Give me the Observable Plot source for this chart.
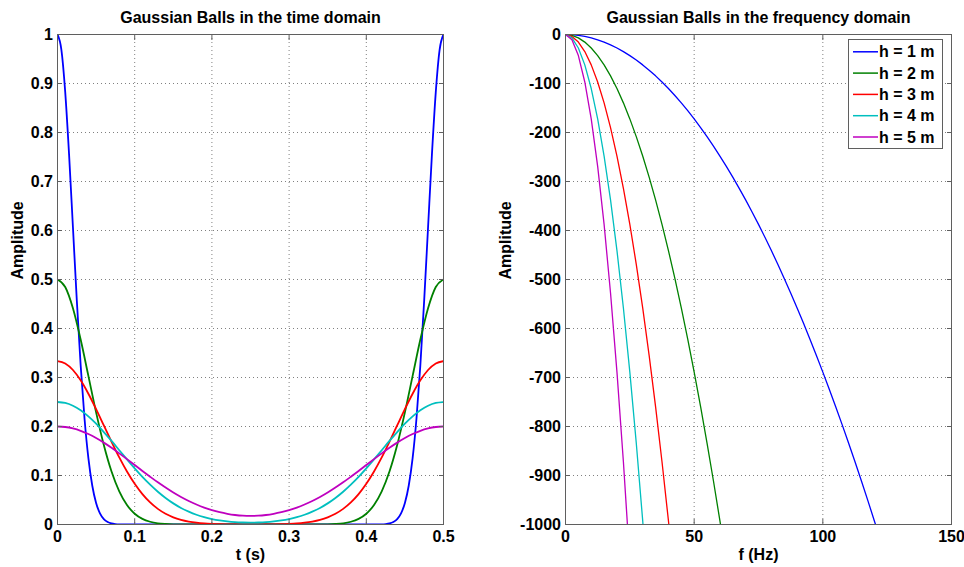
<!DOCTYPE html>
<html><head><meta charset="utf-8">
<script src="https://cdn.jsdelivr.net/npm/d3@7"></script>
<script src="https://cdn.jsdelivr.net/npm/@observablehq/plot@0.6"></script>
<style>
html,body{margin:0;padding:0;background:#fff;}
#wrap{position:relative;width:964px;height:567px;overflow:hidden;background:#fff;}
#wrap svg{position:absolute;top:0;}
</style></head><body><div id="wrap"></div>
<script>
// ---------- series ----------
const seriesNames = ["h = 1 m", "h = 2 m", "h = 3 m", "h = 4 m", "h = 5 m"];
const seriesColors = ["#0000ff", "#008000", "#ff0000", "#00bfbf", "#bf00bf"];

// ---------- time domain ----------
const tBall1 = [0,0.005,0.01,0.015,0.02,0.025,0.03,0.035,0.04,0.045,0.05,0.055,0.06,0.065,0.07,0.075,0.08,0.085,0.09,
  0.41,0.415,0.42,0.425,0.43,0.435,0.44,0.445,0.45,0.455,0.46,0.465,0.47,0.475,0.48,0.485,0.49,0.495,0.5];
const timeH1 = [1,0.9692,0.8825,0.7548,0.6065,0.4578,0.3247,0.2163,0.1353,0.0796,0.0439,0.0228,0.0111,0.0051,0.0022,0.0009,0.0003,0.0001,0,
  0,0.0001,0.0003,0.0009,0.0022,0.0051,0.0111,0.0228,0.0439,0.0796,0.1353,0.2163,0.3247,0.4578,0.6065,0.7548,0.8825,0.9692,1];
const tGrid = [0,0.01,0.02,0.03,0.04,0.05,0.06,0.07,0.08,0.09,0.1,0.11,0.12,0.13,0.14,0.15,0.16,0.17,0.18,0.19,0.2,
  0.21,0.22,0.23,0.24,0.25,0.26,0.27,0.28,0.29,0.3,0.31,0.32,0.33,0.34,0.35,0.36,0.37,0.38,0.39,0.4,
  0.41,0.42,0.43,0.44,0.45,0.46,0.47,0.48,0.49,0.5];
const timeH2 = [0.5,0.4846,0.4412,0.3774,0.3033,0.2289,0.1623,0.1081,0.0677,0.0398,0.022,0.0114,0.0056,0.0025,0.0011,0.0004,0.0002,0.0001,
  0,0,0,0,0,0,0,0,0,0,0,0,0,0,0,
  0.0001,0.0002,0.0004,0.0011,0.0025,0.0056,0.0114,0.022,0.0398,0.0677,0.1081,0.1623,0.2289,0.3033,0.3774,0.4412,0.4846,0.5];
const timeH3 = [0.3333,0.3287,0.3153,0.2942,0.2669,0.2355,0.2022,0.1688,0.137,0.1082,0.0831,0.0621,0.0451,0.0319,0.0219,0.0146,0.0095,0.006,0.0037,0.0022,0.0013,0.0007,0.0004,0.0002,0.0001,0.0001,
  0.0001,0.0002,0.0004,0.0007,0.0013,0.0022,0.0037,0.006,0.0095,0.0146,0.0219,0.0319,0.0451,0.0621,0.0831,0.1082,0.137,0.1688,0.2022,0.2355,0.2669,0.2942,0.3153,0.3287,0.3333];
const timeH4 = [0.25,0.2481,0.2423,0.233,0.2206,0.2057,0.1887,0.1705,0.1516,0.1328,0.1145,0.0971,0.0812,0.0668,0.0541,0.0431,0.0338,0.0262,0.0199,0.015,0.0112,0.0083,0.0062,0.0048,0.0041,0.0038,
  0.0041,0.0048,0.0062,0.0083,0.0112,0.015,0.0199,0.0262,0.0338,0.0431,0.0541,0.0668,0.0812,0.0971,0.1145,0.1328,0.1516,0.1705,0.1887,0.2057,0.2206,0.233,0.2423,0.2481,0.25];
const timeH5 = [0.2,0.199,0.196,0.1912,0.1846,0.1765,0.1671,0.1565,0.1452,0.1334,0.1213,0.1092,0.0975,0.0861,0.0754,0.0653,0.0562,0.048,0.0408,0.0345,0.0293,0.0251,0.0218,0.0194,0.018,0.0176,
  0.018,0.0194,0.0218,0.0251,0.0293,0.0345,0.0408,0.048,0.0562,0.0653,0.0754,0.0861,0.0975,0.1092,0.1213,0.1334,0.1452,0.1565,0.1671,0.1765,0.1846,0.1912,0.196,0.199,0.2];

// ---------- frequency domain ----------
const fGrid = [0,2.5,5,7.5,10,12.5,15,17.5,20,22.5,25,27.5,30,32.5,35,37.5,40,42.5,45,47.5,50,52.5,55,57.5,60,62.5,
  65,67.5,70,72.5,75,77.5,80,82.5,85,87.5,90,92.5,95,97.5,100,102.5,105,107.5,110,112.5,115,117.5,120,122.5];
const freqH1 = [0,-0.43,-1.72,-3.88,-6.89,-10.77,-15.5,-21.1,-27.56,-34.88,-43.06,-52.11,-62.01,-72.78,-84.4,-96.89,-110.24,-124.45,-139.52,-155.45,
  -172.25,-189.9,-208.42,-227.8,-248.04,-269.14,-291.1,-313.93,-337.61,-362.15,-387.56,-413.83,-440.96,-468.95,-497.8,-527.52,-558.09,-589.53,-621.82,-654.98,
  -689.0,-723.9,-759.6,-796.2,-833.7,-872.0,-911.2,-951.3,-992.2,-1033.9];
const freqH2 = [0,-1.72,-6.89,-15.5,-27.56,-43.06,-62.01,-84.4,-110.24,-139.52,-172.25,-208.42,-248.04,-291.1,-337.61,-387.56,-440.96,-497.8,-558.09,-621.82,-689.0,-759.6,-833.7,-911.2,-992.2,-1076.6];
const freqH3 = [0,-3.88,-15.5,-34.88,-62.01,-96.89,-139.52,-189.9,-248.04,-313.93,-387.56,-468.95,-558.09,-654.98,-759.6,-872.0,-992.2,-1120.0];
const freqH4 = [0,-6.89,-27.56,-62.01,-110.24,-172.25,-248.04,-337.61,-440.96,-558.09,-689.0,-833.7,-992.2,-1164.4];
const freqH5 = [0,-10.77,-43.06,-96.89,-172.25,-269.14,-387.56,-527.52,-689.0,-872.0,-1076.6];

// ---------- ticks / labels ----------
const timeXTicks = [0,0.1,0.2,0.3,0.4,0.5];
const timeYTicks = [0,0.1,0.2,0.3,0.4,0.5,0.6,0.7,0.8,0.9,1];
const freqXTicks = [0,50,100,150];
const freqYTicks = [-1000,-900,-800,-700,-600,-500,-400,-300,-200,-100,0];
const titles = ["Gaussian Balls in the time domain", "Gaussian Balls in the frequency domain"];
const xLabels = ["t (s)", "f (Hz)"];
const yLabel = "Amplitude";

// ---------- build tables ----------
function table(xs, ys, s) { return ys.map((y, i) => ({x: xs[i], y, s})); }
const timeData = [
  ...table(tBall1, timeH1, seriesNames[0]),
  ...table(tGrid, timeH2, seriesNames[1]),
  ...table(tGrid, timeH3, seriesNames[2]),
  ...table(tGrid, timeH4, seriesNames[3]),
  ...table(tGrid, timeH5, seriesNames[4])
];
const freqData = [
  ...table(fGrid, freqH1, seriesNames[0]),
  ...table(fGrid, freqH2, seriesNames[1]),
  ...table(fGrid, freqH3, seriesNames[2]),
  ...table(fGrid, freqH4, seriesNames[3]),
  ...table(fGrid, freqH5, seriesNames[4])
];

const FONT = '"Liberation Sans", Arial, Helvetica, sans-serif';
const fmt = d => String(Math.round(d * 1000) / 1000);
const FRAME = "#5f5f5f";
const GRID = {stroke: "#808080", strokeOpacity: 1, strokeDasharray: "1,3", strokeWidth: 1};

function panel(o) {
  return Plot.plot({
    width: o.width, height: 567,
    marginLeft: o.ml, marginRight: o.mr, marginTop: 34, marginBottom: 43,
    style: {fontFamily: FONT, fontSize: "16px", fontWeight: "bold", color: "#000", background: "transparent"},
    x: {domain: o.xDomain},
    y: {domain: o.yDomain},
    color: {domain: seriesNames, range: seriesColors},
    marks: [
      Plot.gridX(o.xTicks, GRID),
      Plot.gridY(o.yTicks, GRID),
      Plot.line(o.data, {x: "x", y: "y", z: "s", stroke: "s", strokeWidth: o.sw, curve: o.curve, clip: true}),
      Plot.frame({stroke: FRAME}),
      // inward ticks on all four sides
      Plot.axisX(o.xTicks, {anchor: "bottom", tickSize: 5, dy: -5, tickFormat: () => "", label: null, stroke: FRAME}),
      Plot.axisX(o.xTicks, {anchor: "top", tickSize: 5, dy: 5, tickFormat: () => "", label: null, stroke: FRAME}),
      Plot.axisY(o.yTicks, {anchor: "left", tickSize: 5, dx: 5, tickFormat: () => "", label: null, stroke: FRAME}),
      Plot.axisY(o.yTicks, {anchor: "right", tickSize: 5, dx: -5, tickFormat: () => "", label: null, stroke: FRAME}),
      // tick labels
      Plot.axisX(o.xTicks, {anchor: "bottom", tickSize: 0, tickPadding: 6, tickFormat: fmt, label: null, fill: "#000"}),
      Plot.axisY(o.yTicks, {anchor: "left", tickSize: 0, tickPadding: o.ypad, tickFormat: fmt, label: null, fill: "#000"}),
      // titles and axis labels
      Plot.text([o.title], {text: d => d, frameAnchor: "top", dy: -12, lineAnchor: "bottom", fontSize: 16, fontWeight: "bold", fill: "#000"}),
      Plot.text([o.xLabel], {text: d => d, frameAnchor: "bottom", dy: 35, lineAnchor: "bottom", fontSize: 16, fontWeight: "bold", fill: "#000"}),
      Plot.text([yLabel], {text: d => d, frameAnchor: "left", dx: o.ylx, rotate: -90, lineAnchor: "bottom", fontSize: 16, fontWeight: "bold", fill: "#000"})
    ]
  });
}

const wrap = document.getElementById("wrap");
const left = panel({width: 482, ml: 57, mr: 39, xDomain: [0, 0.5], yDomain: [0, 1],
  xTicks: timeXTicks, yTicks: timeYTicks, data: timeData, sw: 1.8, curve: "monotone-x",
  title: titles[0], xLabel: xLabels[0], ypad: 4.5, ylx: -35});
left.style.left = "0px";
wrap.appendChild(left);

const right = panel({width: 482, ml: 83, mr: 13, xDomain: [0, 150], yDomain: [-1000, 0],
  xTicks: freqXTicks, yTicks: freqYTicks, data: freqData, sw: 1.3, curve: "linear",
  title: titles[1], xLabel: xLabels[1], ypad: 4.5, ylx: -55});
right.style.left = "482px";
wrap.appendChild(right);

// ---------- legend ----------
const lg = d3.select(wrap).append("svg")
  .attr("width", 96).attr("height", 111)
  .style("left", "848px").style("top", "39px");
lg.append("rect").attr("x", 0.5).attr("y", 0.5).attr("width", 94).attr("height", 109)
  .attr("fill", "#fff").attr("stroke", FRAME);
seriesNames.forEach((name, i) => {
  const cy = 12.8 + i * 21.3;
  lg.append("line").attr("x1", 5).attr("x2", 30).attr("y1", cy).attr("y2", cy)
    .attr("stroke", seriesColors[i]).attr("stroke-width", 1.5);
  lg.append("text").attr("x", 31).attr("y", cy).attr("dy", "0.35em")
    .attr("font-family", FONT).attr("font-size", 16).attr("font-weight", "bold")
    .attr("fill", "#000").text(name);
});
</script></body></html>
